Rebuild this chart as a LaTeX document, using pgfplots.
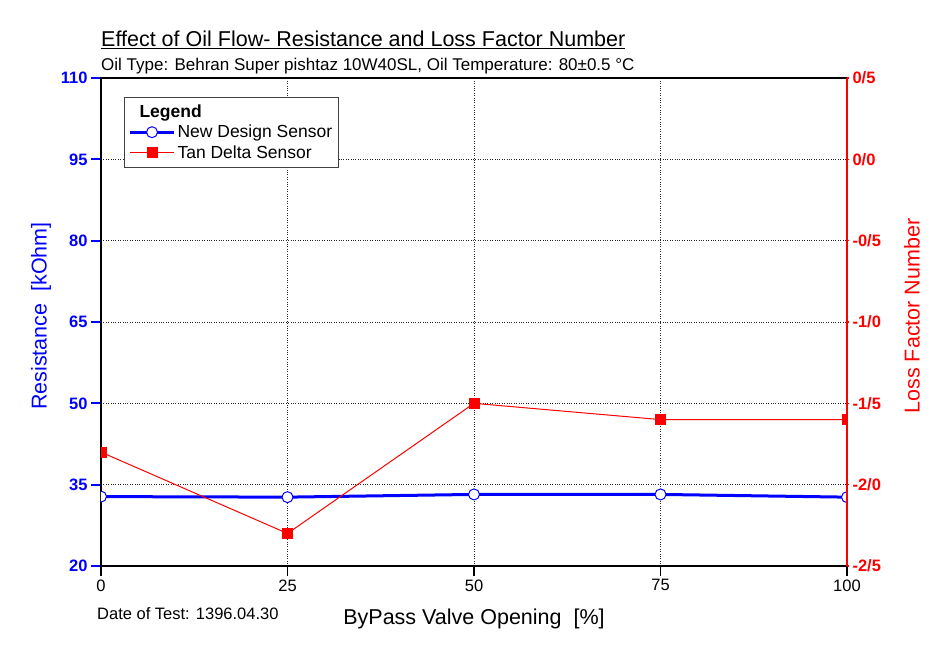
\documentclass[border=0pt]{standalone}
\usepackage{fontspec}
\setmainfont{Liberation Sans}
\usepackage{pgfplots}
\pgfplotsset{compat=1.18}

\definecolor{resblue}{RGB}{0,0,255}
\definecolor{lossred}{RGB}{255,0,0}

\begin{document}
\begin{tikzpicture}
\pgfplotsset{
  common/.style={
    scale only axis, width=746pt, height=488pt,
    xmin=0, xmax=100,
    clip marker paths=true,
    legend image code/.code={%
      \draw[mark repeat=2,mark phase=2,##1] plot coordinates {(0pt,0pt) (22pt,0pt) (44pt,0pt)};},
  },
}
% Resistance (left axis), grid and frame
\begin{axis}[common, name=main,
  ymin=20, ymax=110,
  ytick={20,35,50,65,80,95,110},
  yticklabels={20,35,50,65,80,95,110},
  xtick={0,25,50,75,100},
  xticklabels={0,25,50,75,100},
  xtick pos=bottom, ytick pos=left,
  tick align=outside,
  major tick length=10pt,
  grid=major,
  grid style={black!85, dotted, line width=0.9pt},
  axis line style={black, line width=1.3pt},
  y tick style={resblue, line width=1.8pt},
  x tick style={black, line width=1.3pt},
  yticklabel style={font=\bfseries\fontsize{16.5}{19}\selectfont, text=resblue},
  xticklabel style={font=\fontsize{16.5}{19}\selectfont},
  ylabel={Resistance\ \ [kOhm]},
  every axis y label/.style={at={(axis description cs:0,0.5)}, xshift=-60pt, yshift=6pt, anchor=center, rotate=90,
    font=\fontsize{21.5}{25}\selectfont, text=resblue},
  xlabel={ByPass Valve Opening\ \ [\%]},
  every axis x label/.style={at={(axis description cs:0.5,0)}, yshift=-53pt, anchor=center,
    font=\fontsize{21.5}{25}\selectfont},
]
\addplot[resblue, line width=3pt, mark=*, mark size=5.5pt,
  mark options={fill=white, draw=resblue, line width=1pt, solid}]
  coordinates {(0,32.8) (25,32.7) (50,33.2) (75,33.2) (100,32.7)};
\end{axis}

% Loss factor (right axis)
\begin{axis}[common,
  ymin=-2.5, ymax=0.5,
  axis x line=none,
  axis y line*=right,
  ytick={-2.5,-2,-1.5,-1,-0.5,0,0.5},
  yticklabels={-2/5,-2/0,-1/5,-1/0,-0/5,0/0,0/5},
  y axis line style={lossred, line width=1.8pt, -},
  tick align=outside,
  major tick length=2pt,
  y tick style={lossred, line width=1.5pt},
  yticklabel style={font=\bfseries\fontsize{16.5}{19}\selectfont, text=lossred},
  ylabel={Loss Factor Number},
  every axis y label/.style={at={(axis description cs:1,0.5)}, xshift=65pt, yshift=6pt, anchor=center, rotate=90,
    font=\fontsize{21.5}{25}\selectfont, text=lossred},
  legend style={at={(0.031,0.961)}, anchor=north west, draw=black!75, line width=0.8pt,
    fill=white, font=\fontsize{17.5}{20}\selectfont, inner xsep=4pt, inner ysep=5pt, row sep=2.5pt},
  legend cell align=left,
]
\addlegendimage{empty legend}
\addlegendentry{\hspace*{-38pt}\textbf{Legend}}
\addlegendimage{resblue, line width=3pt, mark=*, mark size=5.5pt,
  mark options={fill=white, draw=resblue, line width=1pt, solid}}
\addlegendentry{New Design Sensor}
\addplot[lossred, line width=1pt, mark=square*, mark size=5pt,
  mark options={fill=lossred, draw=lossred, solid}]
  coordinates {(0,-1.8) (25,-2.3) (50,-1.5) (75,-1.6) (100,-1.6)};
\addlegendentry{Tan Delta Sensor}
\end{axis}

% Titles and notes
\node[anchor=base west, font=\fontsize{21.5}{25}\selectfont, inner sep=0pt]
  at ([yshift=31pt]main.north west) {\underline{Effect of Oil Flow- Resistance and Loss Factor Number}};
\node[anchor=base west, font=\fontsize{17}{20}\selectfont, inner sep=0pt]
  at ([yshift=7pt]main.north west) {Oil Type: Behran Super pishtaz 10W40SL, Oil Temperature: 80±0.5 °C};
\node[anchor=west, font=\fontsize{16.5}{19}\selectfont, inner sep=0pt]
  at ([xshift=-4pt,yshift=-48pt]main.south west) {Date of Test: 1396.04.30};

\pgfresetboundingbox
\path[use as bounding box] ([xshift=-101pt,yshift=-93pt]main.south west) rectangle ([xshift=102pt,yshift=78pt]main.north east);
\end{tikzpicture}
\end{document}
